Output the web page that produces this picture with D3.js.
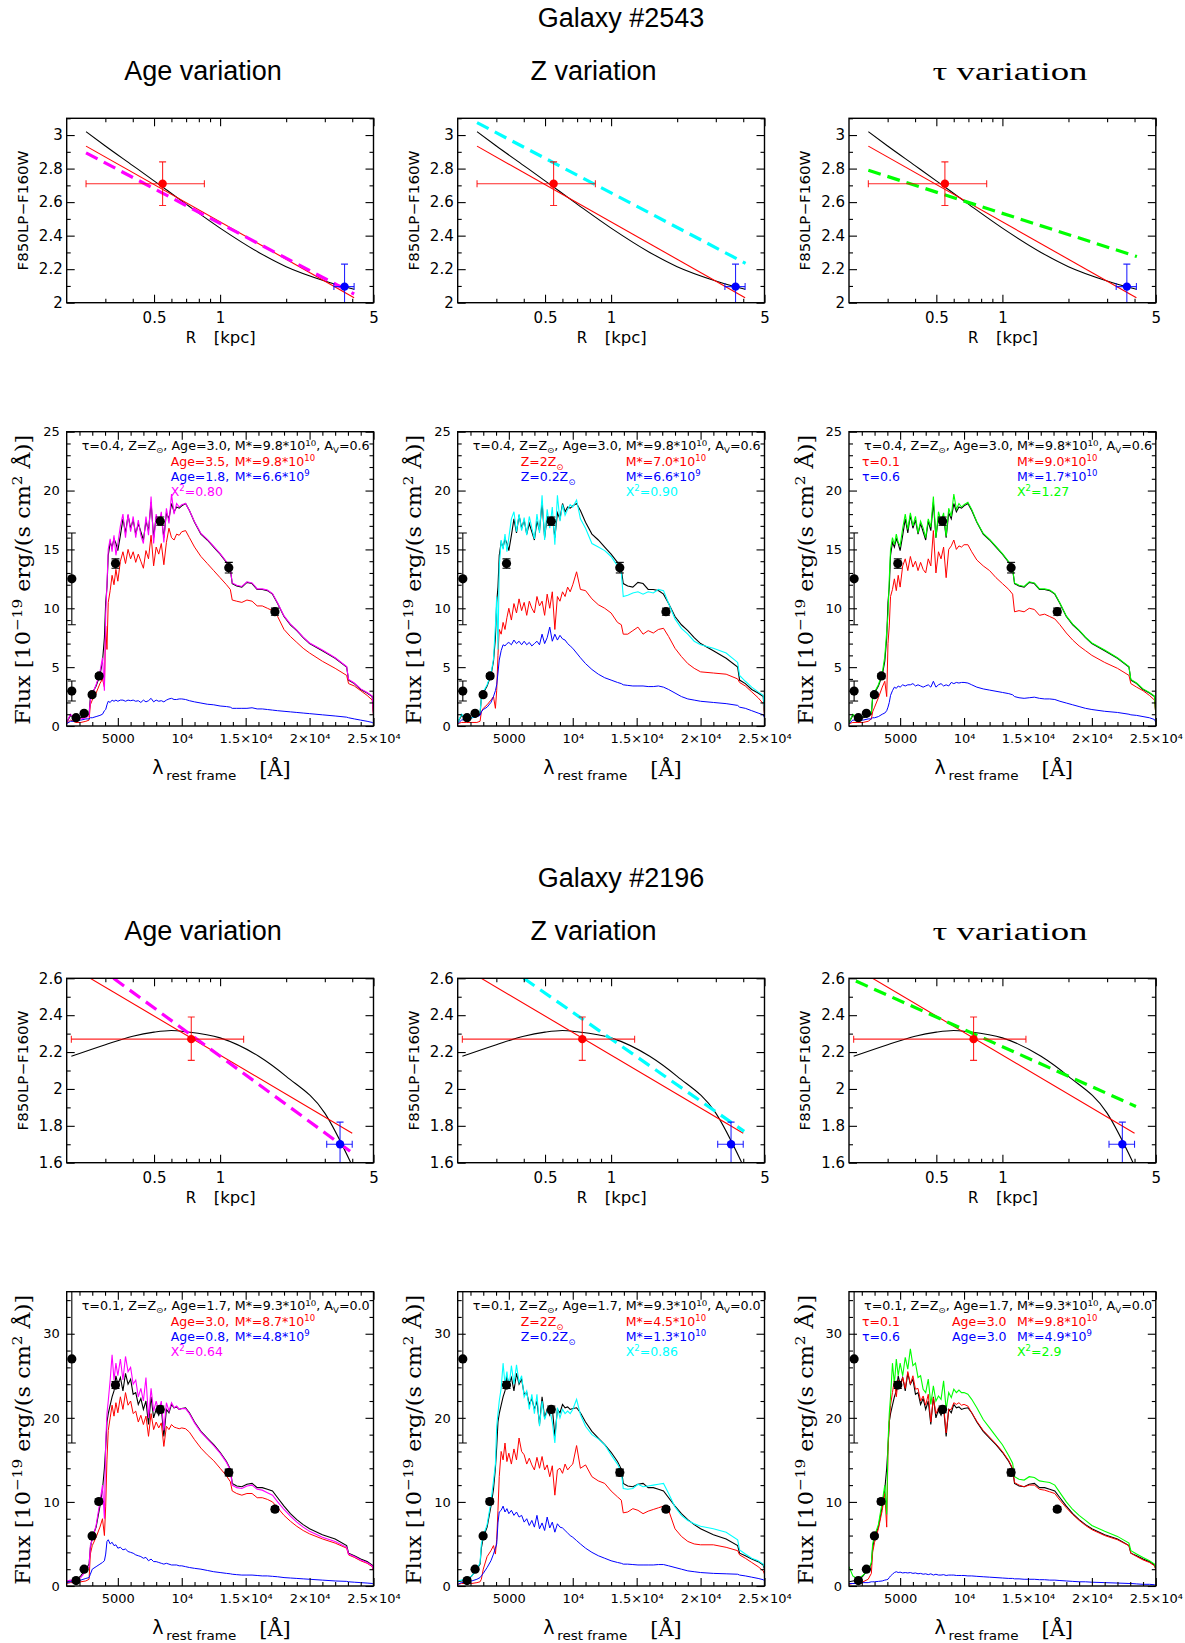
<!DOCTYPE html>
<html><head><meta charset="utf-8">
<script src="https://cdn.jsdelivr.net/npm/d3@7"></script>
<style>html,body{margin:0;padding:0;background:#fff}svg{display:block}</style>
</head><body>
<script>
// ---------------- DATA ----------------
// rest-frame wavelength grid (Angstrom) on which the model spectra were read
const WAVE = [1000,1300,1700,2100,2500,2750,2850,3000,3300,3600,
 3800,3950,4050,4150,4250,4400,4550,4700,4850,5000,
 5200,5400,5600,5800,6000,6200,6400,6600,6800,7000,
 7200,7400,7600,7800,8000,8200,8400,8600,8800,9000,
 9200,9400,9600,9800,10000,10300,10600,11000,11500,12000,
 12500,13000,13500,13800,13950,14300,14700,15100,15500,15900,
 16300,16700,17100,17500,18000,18500,19000,19500,20000,21000,
 22000,22900,23050,23500,24000,24500,24900,25000];

// ---- Galaxy #2543 spectra (10^-19 erg/s/cm2/A)
const G1_BEST = [0.3,0.9,0.6,0.7,0.8,1.0,2.4,2.8,3.4,4.3,
 5.5,7.5,10.5,11.8,14.5,15.6,15.2,15.9,15.5,14.9,
 16.2,17.6,16.4,17.9,16.8,17.5,16.3,17.2,16.5,15.8,
 17.4,16.6,19.0,16.0,17.8,17.2,17.8,16.0,18.1,17.6,
 18.9,18.2,18.6,18.5,18.7,18.9,18.3,17.3,16.3,15.8,
 15.2,14.6,13.9,13.3,12.1,11.9,11.8,12.2,12.1,11.6,
 11.6,11.5,11.2,10.4,9.3,8.6,8.1,7.5,7.0,6.4,
 5.75,5.0,3.9,3.6,3.1,2.8,2.5,1.0];
const G1_AGE_FIT = [0.3,1.0,0.5,0.6,0.7,0.9,2.2,2.7,3.5,4.6,
 5.8,3.0,9.5,12.0,15.0,15.9,14.8,16.2,14.5,15.5,
 17.0,18.0,16.0,18.0,16.5,17.8,16.0,17.5,16.2,15.5,
 17.8,16.2,19.5,15.5,18.0,17.0,18.2,15.6,18.5,17.2,
 19.7,18.0,18.9,18.6,18.8,18.9,18.3,17.35,16.35,15.85,
 15.25,14.65,13.95,13.35,12.15,11.95,11.85,12.25,12.15,11.65,
 11.65,11.55,11.25,10.45,9.35,8.65,8.15,7.55,7.05,6.45,
 5.8,5.05,3.95,3.65,3.15,2.85,2.55,1.05];
const G1_AGE_RED = [0.2,0.5,0.3,0.3,0.4,0.5,1.8,2.2,2.8,3.6,
 4.0,3.3,8.5,6.5,10.5,11.5,12.8,12.0,13.3,12.3,
 14.0,14.8,13.8,15.0,14.2,14.8,13.9,14.6,14.0,13.4,
 14.9,14.2,16.2,13.6,15.2,14.6,15.5,13.7,15.6,16.8,
 16.0,15.8,16.3,16.2,16.5,16.6,16.0,15.2,14.4,13.8,
 13.2,12.6,12.0,11.6,10.7,10.6,10.5,10.7,10.6,10.2,
 10.2,10.0,9.8,9.3,8.2,7.6,7.1,6.6,6.2,5.5,
 4.9,4.3,3.6,3.4,3.0,2.6,2.2,0.9];
const G1_AGE_BLUE = [0.2,0.4,0.4,0.5,0.6,0.6,0.7,0.7,0.8,0.9,
 1.0,1.3,1.4,1.8,2.1,2.0,2.2,2.1,2.2,2.1,
 2.2,2.2,2.1,2.2,2.15,2.2,2.1,2.15,2.0,2.2,
 2.05,2.15,2.35,2.05,2.2,2.1,2.15,2.05,2.2,2.3,
 2.35,2.25,2.25,2.3,2.3,2.25,2.15,2.05,1.95,1.85,
 1.8,1.7,1.65,1.6,1.5,1.5,1.5,1.5,1.55,1.45,
 1.45,1.4,1.35,1.3,1.25,1.2,1.15,1.1,1.05,0.95,
 0.85,0.75,0.7,0.6,0.5,0.4,0.3,0.2];
const G1_Z_FIT = [0.3,1.0,0.6,0.7,0.9,1.2,2.3,2.9,3.5,4.4,
 5.7,8.5,11.0,6.5,13.5,15.8,15.0,16.3,14.8,16.0,
 17.6,18.2,16.5,18.0,16.6,17.7,16.2,17.8,16.8,15.9,
 18.0,16.4,19.6,15.8,18.4,16.8,18.6,15.4,19.6,17.4,
 18.8,17.9,18.4,18.8,18.6,19.2,17.6,16.8,15.5,15.2,
 14.9,14.4,13.6,13.0,11.0,11.1,11.3,11.4,11.2,11.4,
 11.3,11.6,11.5,10.4,9.1,8.3,7.8,7.2,6.9,6.6,
 6.2,5.4,4.3,3.8,3.3,2.9,2.6,1.2];
const G1_Z_RED = [0.2,0.3,0.3,0.3,0.3,0.4,1.2,1.5,1.8,2.2,
 2.5,1.5,3.0,6.0,8.2,7.8,8.8,8.2,9.2,10.0,
 9.0,10.4,9.6,10.8,9.8,10.5,9.4,10.6,10.0,9.6,
 11.0,10.2,10.6,9.4,11.2,10.0,11.4,8.2,11.0,10.6,
 11.4,11.0,11.8,11.4,12.0,13.1,11.6,11.5,10.8,10.3,
 10.0,9.6,8.8,8.6,7.8,7.8,8.1,8.4,7.8,8.1,
 7.9,8.2,8.3,7.6,6.6,5.9,5.3,4.9,4.6,4.5,
 4.4,4.0,3.7,3.4,2.9,2.4,1.9,1.0];
const G1_Z_BLUE = [0.2,0.5,0.6,0.7,0.8,0.9,1.2,1.4,1.6,2.0,
 2.5,3.0,3.5,4.5,5.6,6.4,6.9,6.8,7.0,7.1,
 6.9,7.3,7.0,7.2,6.9,7.2,6.9,7.1,6.8,7.0,
 7.2,6.9,7.8,7.0,7.5,8.4,7.2,7.8,7.3,7.7,
 7.4,7.3,7.0,6.8,6.6,6.2,5.8,5.3,4.8,4.4,
 4.1,3.9,3.7,3.6,3.5,3.45,3.4,3.4,3.4,3.35,
 3.35,3.4,3.3,3.1,2.8,2.5,2.3,2.2,2.1,2.0,
 1.9,1.75,1.6,1.5,1.3,1.1,0.95,0.7];
const G1_TAU_FIT = [0.3,1.0,0.7,0.8,0.9,1.1,2.5,2.9,3.5,4.5,
 5.9,8.0,9.5,12.5,15.0,16.0,15.4,16.3,15.6,15.3,
 16.8,18.0,16.7,18.1,17.0,17.8,16.4,17.4,16.8,16.0,
 17.6,16.9,19.5,16.0,18.2,17.4,18.1,16.1,18.5,17.8,
 19.7,18.4,18.9,18.6,18.8,19.0,18.4,17.35,16.35,15.85,
 15.25,14.65,13.95,13.35,12.15,11.95,11.85,12.25,12.15,11.65,
 11.65,11.55,11.25,10.45,9.35,8.65,8.15,7.55,7.05,6.45,
 5.8,5.05,3.95,3.65,3.15,2.85,2.55,1.05];
const G1_TAU_RED = [0.2,0.3,0.3,0.3,0.4,0.6,1.2,1.6,2.4,3.3,
 3.8,2.5,7.0,8.5,11.0,11.6,12.5,11.5,12.8,11.8,
 13.6,14.2,13.2,14.4,13.5,14.0,13.2,13.9,13.3,13.0,
 14.2,13.6,16.6,13.0,14.8,14.2,15.2,12.6,15.0,15.3,
 15.8,15.0,15.3,15.2,15.4,15.4,14.8,14.1,13.6,13.2,
 12.6,12.1,11.6,11.2,9.7,9.8,9.7,10.0,9.9,9.4,
 9.5,9.3,9.1,8.6,7.9,7.3,6.8,6.4,6.0,5.4,
 4.9,4.3,3.6,3.3,3.0,2.6,2.2,1.0];
const G1_TAU_BLUE = [0.2,0.5,0.5,0.5,0.6,0.6,0.7,0.7,0.8,1.0,
 1.1,1.3,1.6,2.0,2.6,3.0,3.3,3.2,3.4,3.3,
 3.5,3.4,3.5,3.5,3.6,3.4,3.5,3.4,3.3,3.4,
 3.5,3.3,3.8,3.3,3.5,3.6,3.4,3.5,3.4,3.7,
 3.6,3.7,3.65,3.7,3.7,3.65,3.5,3.3,3.15,3.05,
 2.95,2.85,2.75,2.65,2.5,2.4,2.35,2.4,2.45,2.35,
 2.3,2.3,2.25,2.1,1.95,1.8,1.65,1.5,1.4,1.25,
 1.15,1.0,0.95,0.9,0.8,0.7,0.55,0.3];

// ---- Galaxy #2196 spectra
const G2_BEST = [0.5,0.6,0.7,1.2,2.0,2.6,4.5,5.8,7.0,9.5,
 11.5,14.0,16.5,19.5,20.5,21.5,22.5,23.2,25.0,24.0,
 24.8,23.2,25.3,24.0,24.6,22.8,23.0,21.6,22.3,21.0,
 22.0,19.2,22.5,20.0,21.0,20.3,21.2,17.8,21.0,20.6,
 21.6,21.2,21.3,21.0,21.1,21.2,20.6,19.5,18.4,17.6,
 16.8,15.9,14.8,13.9,12.2,11.9,11.8,12.1,12.2,11.7,
 11.7,11.5,11.3,10.5,9.5,8.6,7.9,7.3,6.8,6.1,
 5.6,4.8,3.9,3.6,3.2,2.9,2.5,2.0];
const G2_AGE_FIT = [0.6,0.7,0.6,1.0,1.8,2.3,4.8,5.5,7.2,10.0,
 12.0,8.0,17.0,20.5,22.0,24.5,27.5,24.5,26.5,25.0,
 27.0,24.5,27.3,25.5,26.0,24.0,24.5,22.5,23.5,22.0,
 24.8,20.0,23.5,20.8,22.0,20.8,22.0,18.5,21.8,20.8,
 21.8,21.2,21.4,21.0,21.1,21.1,20.5,19.4,18.3,17.5,
 16.7,15.8,14.7,13.8,12.0,11.7,11.6,11.9,12.0,11.5,
 11.4,11.1,10.8,10.0,9.1,8.3,7.6,7.0,6.5,5.8,
 5.3,4.6,3.8,3.5,3.1,2.8,2.4,1.9];
const G2_AGE_RED = [0.3,0.4,0.4,0.5,0.6,0.8,3.8,4.8,5.8,7.0,
 8.0,6.0,9.5,15.0,18.5,20.0,21.5,20.2,21.8,20.6,
 22.5,21.0,23.0,21.5,22.0,20.5,20.8,19.5,20.3,19.2,
 20.2,17.8,20.5,18.6,19.5,18.8,19.4,16.6,19.0,18.6,
 19.2,18.9,18.8,18.7,18.8,18.7,18.3,17.4,16.4,15.6,
 14.9,14.0,13.1,12.4,11.3,11.0,10.8,11.0,11.0,10.5,
 10.5,10.3,10.0,9.3,8.4,7.7,7.1,6.6,6.2,5.6,
 5.1,4.5,3.7,3.4,3.0,2.7,2.3,1.8];
const G2_AGE_BLUE = [0.4,0.5,0.5,0.7,0.9,1.0,1.4,2.0,2.3,2.6,
 2.8,3.0,3.8,5.3,5.5,5.0,5.2,4.8,4.9,4.5,
 4.6,4.3,4.4,4.1,4.0,3.9,3.7,3.6,3.5,3.3,
 3.4,3.0,3.2,2.9,2.9,2.8,2.7,2.6,2.7,2.6,
 2.5,2.5,2.5,2.4,2.4,2.3,2.2,2.1,2.0,1.85,
 1.7,1.6,1.5,1.45,1.4,1.35,1.3,1.3,1.3,1.25,
 1.2,1.2,1.15,1.1,1.0,0.95,0.9,0.85,0.8,0.7,
 0.6,0.55,0.5,0.45,0.4,0.35,0.3,0.25];
const G2_Z_FIT = [0.6,0.7,0.8,1.2,1.9,2.8,5.0,6.0,7.3,10.0,
 12.5,14.5,19.0,20.5,22.0,23.5,26.5,24.0,25.5,23.5,
 26.2,24.0,26.3,24.2,25.0,22.5,23.2,21.0,22.8,20.5,
 22.8,19.0,22.0,19.8,20.8,21.0,19.5,17.0,21.2,20.0,
 21.0,20.5,20.8,20.5,21.0,22.2,20.4,19.0,18.0,17.5,
 16.8,15.6,14.5,13.6,11.6,11.5,11.6,12.1,11.8,11.9,
 12.0,12.1,12.2,11.0,9.4,8.4,7.8,7.4,7.1,6.8,
 6.4,5.5,4.3,3.8,3.3,3.0,2.6,2.2];
const G2_Z_RED = [0.2,0.3,0.3,0.3,0.4,0.5,0.8,2.0,3.5,4.2,
 4.8,3.8,5.5,9.0,13.0,16.0,15.0,17.0,14.8,15.8,
 14.5,16.3,15.0,17.6,16.0,15.6,14.5,15.2,14.4,13.8,
 15.3,14.0,15.4,13.8,14.4,13.0,14.3,10.8,13.8,14.0,
 13.4,14.5,13.8,14.2,14.5,16.7,14.0,14.4,13.0,12.5,
 12.2,11.3,10.6,10.2,8.7,8.8,9.2,9.0,8.6,8.9,
 9.1,9.3,9.5,9.0,6.8,5.9,5.3,5.0,4.9,4.9,
 4.6,4.2,3.7,3.3,2.8,2.3,1.8,1.4];
const G2_Z_BLUE = [0.2,0.4,0.5,0.6,0.8,1.0,1.2,1.5,2.2,3.0,
 3.8,4.5,5.0,7.5,8.8,9.0,9.5,8.8,9.2,8.6,
 9.0,8.4,8.8,8.2,8.4,7.6,8.0,7.2,7.8,7.0,
 8.4,6.8,7.5,6.6,8.2,6.9,7.6,6.4,7.4,7.0,
 6.9,6.6,6.3,6.0,5.8,5.4,5.0,4.5,4.0,3.6,
 3.3,3.0,2.8,2.7,2.6,2.6,2.55,2.5,2.5,2.5,
 2.5,2.55,2.55,2.4,2.2,2.0,1.8,1.7,1.6,1.5,
 1.45,1.4,1.3,1.2,1.05,0.9,0.75,0.6];
const G2_TAU_FIT = [2.3,1.2,0.8,1.3,1.8,2.8,5.0,6.0,7.3,10.0,
 12.0,8.5,17.0,20.5,22.5,26.5,24.0,27.0,25.0,26.5,
 25.0,27.2,25.8,28.2,26.2,26.5,24.8,25.0,23.4,23.0,
 24.6,21.6,23.8,22.0,22.6,22.2,24.4,21.0,23.0,22.4,
 23.4,23.0,23.3,23.0,23.0,22.8,22.2,21.2,19.8,18.8,
 17.8,16.8,15.5,14.6,13.0,12.7,12.6,13.0,12.9,12.5,
 12.4,12.3,12.0,11.1,10.0,9.1,8.4,7.8,7.2,6.5,
 5.9,5.1,4.2,3.8,3.4,3.0,2.6,2.1];
const G2_TAU_RED = [0.2,0.3,0.3,0.5,0.8,1.5,4.0,5.2,6.8,9.0,
 11.0,7.0,16.0,19.5,21.5,23.0,24.5,22.5,24.5,23.5,
 24.8,23.5,25.5,24.0,25.0,23.4,23.5,22.0,22.6,21.5,
 22.8,19.5,22.4,20.5,21.2,20.8,21.5,18.2,21.0,21.0,
 21.8,21.6,21.8,21.5,21.6,21.4,20.6,19.6,18.5,17.7,
 16.9,16.0,14.9,14.0,12.3,12.0,11.8,12.0,12.0,11.5,
 11.4,11.2,11.0,10.2,9.3,8.5,7.8,7.2,6.7,6.0,
 5.5,4.8,3.9,3.5,3.1,2.8,2.4,1.9];
const G2_TAU_BLUE = [0.3,0.3,0.3,0.4,0.4,0.5,0.5,0.5,0.55,0.6,
 0.7,0.75,0.8,1.0,1.2,1.4,1.6,1.7,1.6,1.65,
 1.55,1.6,1.55,1.6,1.5,1.55,1.45,1.5,1.4,1.45,
 1.35,1.45,1.3,1.4,1.3,1.3,1.35,1.25,1.3,1.3,
 1.3,1.25,1.25,1.25,1.25,1.2,1.2,1.15,1.1,1.05,
 1.0,0.95,0.9,0.9,0.85,0.85,0.8,0.8,0.8,0.75,
 0.75,0.7,0.7,0.65,0.6,0.55,0.5,0.5,0.45,0.4,
 0.35,0.3,0.3,0.25,0.2,0.2,0.15,0.1];

// ---- photometric points (rest-frame wavelength, flux, 1-sigma error)
const G1_PHOT_LAM = [1400,1400,1732,2360,2987,3536,4817,8320,13680,17290];
const G1_PHOT_F   = [12.5,2.97,0.71,1.08,2.66,4.25,13.8,17.4,13.45,9.71];
const G1_PHOT_E   = [3.9,0.85,0.1,0.1,0.15,0.2,0.4,0.35,0.45,0.3];
const G2_PHOT_LAM = [1400,1732,2360,2987,3510,4817,8320,13680,17290];
const G2_PHOT_F   = [27.0,0.64,2.0,5.96,10.05,23.9,21.0,13.5,9.14];
const G2_PHOT_E   = [10.0,0.1,0.1,0.2,0.3,0.4,0.4,0.4,0.3];

// ---- colour profiles F850LP-F160W vs R [kpc]
const G1_PROF_R = [0.245,0.3,0.4,0.5,0.7,1,1.5,2,3,4.08];
const G1_PROF_C = [3.02,2.935,2.818,2.727,2.588,2.445,2.30,2.215,2.13,2.08];
const G1_LIN_R = [0.245,4.08];
const G1_LIN_C = [2.934,2.03];
const G1_AGE_DASH_R = [0.245,4.08], G1_AGE_DASH_C = [2.894,2.052];
const G1_Z_DASH_R = [0.245,4.1],    G1_Z_DASH_C = [3.074,2.235];
const G1_TAU_DASH_R = [0.245,4.1],  G1_TAU_DASH_C = [2.79,2.275];
// inner (red) and outer (blue) measured colours: R, C, Rlo, Rhi, Clo, Chi
const G1_PT_IN  = [0.547,2.71,0.245,0.848,2.58,2.84];
const G1_PT_OUT = [3.69,2.096,3.3,4.08,1.96,2.23];

const G2_PROF_R = [0.21,0.3,0.4,0.5,0.6,0.7,1,1.5,2,3,3.94];
const G2_PROF_C = [2.177,2.24,2.286,2.308,2.317,2.31,2.277,2.177,2.068,1.869,1.6];
const G2_LIN_R = [0.256,4.0];
const G2_LIN_C = [2.6,1.76];
const G2_AGE_DASH_R = [0.327,4.04], G2_AGE_DASH_C = [2.6,1.65];
const G2_Z_DASH_R = [0.4,4.04],     G2_Z_DASH_C = [2.6,1.77];
const G2_TAU_DASH_R = [0.215,4.06], G2_TAU_DASH_C = [2.585,1.905];
const G2_PT_IN  = [0.739,2.27,0.21,1.28,2.155,2.39];
const G2_PT_OUT = [3.52,1.70,3.06,4.0,1.56,1.82];

// ---- axes / ticks
const R_DOMAIN = [0.2,5];
const R_MAJOR = [0.5,1,5];
const R_MINOR = [0.3,0.4,0.6,0.7,0.8,0.9,2,3,4];
const LAM_DOMAIN = [1000,25000];
const LAM_MAJOR = [5000,10000,15000,20000,25000];
const LAM_LABELS = ["5000","10\u2074","1.5\u00d710\u2074","2\u00d710\u2074","2.5\u00d710\u2074"];
const LAM_MINOR = [2000,3000,4000,6000,7000,8000,9000,11000,12000,13000,14000,16000,17000,18000,19000,21000,22000,23000,24000];
const G1_C_DOMAIN = [2,3.1], G1_C_MAJOR = [2,2.2,2.4,2.6,2.8,3], G1_C_MINOR = [2.1,2.3,2.5,2.7,2.9,3.1];
const G2_C_DOMAIN = [1.6,2.6], G2_C_MAJOR = [1.6,1.8,2,2.2,2.4,2.6], G2_C_MINOR = [1.7,1.9,2.1,2.3,2.5];
const G1_F_DOMAIN = [0,25], G1_F_MAJOR = [0,5,10,15,20,25], G1_F_MINOR = [1,2,3,4,6,7,8,9,11,12,13,14,16,17,18,19,21,22,23,24];
const G2_F_DOMAIN = [0,35], G2_F_MAJOR = [0,10,20,30], G2_F_MINOR = [2,4,6,8,12,14,16,18,22,24,26,28,32,34];

const RED="#ff0000", BLUE="#0000ff", MAG="#ff00ff", CYAN="#00ffff", GREEN="#00ff00";

// ---------------- LAYOUT ----------------
const W=1185, H=1643;
const COL_X = [66.7,457.7,849];
const BOX_W = 306.8;
const COL_T = 118.3, COL_H = 184.4, SED_T = 431.7, SED_H = 294.3;
const TITLE_X = [203,593.5,1010];
const SANS = "'DejaVu Sans', sans-serif";
const HEAD = "'Liberation Sans', Arial, sans-serif";

const galaxies = [
 {title:"Galaxy #2543", dy:0, cDom:G1_C_DOMAIN, cMaj:G1_C_MAJOR, cMin:G1_C_MINOR,
  fDom:G1_F_DOMAIN, fMaj:G1_F_MAJOR, fMin:G1_F_MINOR,
  best:G1_BEST, profR:G1_PROF_R, profC:G1_PROF_C, linR:G1_LIN_R, linC:G1_LIN_C,
  ptIn:G1_PT_IN, ptOut:G1_PT_OUT, lam:G1_PHOT_LAM, f:G1_PHOT_F, e:G1_PHOT_E,
  head:"\u03c4=0.4, Z=Z_{\u2299}, Age=3.0, M*=9.8*10^{10}, A_{V}=0.6",
  panels:[
   {title:"Age variation", fit:G1_AGE_FIT, fitC:MAG, red:G1_AGE_RED, blue:G1_AGE_BLUE, dR:G1_AGE_DASH_R, dC:G1_AGE_DASH_C,
    leg:[[104,1,RED,"Age=3.5,"],[168,1,RED,"M*=9.8*10^{10}"],[104,2,BLUE,"Age=1.8,"],[168,2,BLUE,"M*=6.6*10^{9}"],[104,3,MAG,"X^{2}=0.80"]]},
   {title:"Z variation", fit:G1_Z_FIT, fitC:CYAN, red:G1_Z_RED, blue:G1_Z_BLUE, dR:G1_Z_DASH_R, dC:G1_Z_DASH_C,
    leg:[[63,1,RED,"Z=2Z_{\u2299}"],[168,1,RED,"M*=7.0*10^{10}"],[63,2,BLUE,"Z=0.2Z_{\u2299}"],[168,2,BLUE,"M*=6.6*10^{9}"],[168,3,CYAN,"X^{2}=0.90"]]},
   {title:"\u03c4 variation", fit:G1_TAU_FIT, fitC:GREEN, red:G1_TAU_RED, blue:G1_TAU_BLUE, dR:G1_TAU_DASH_R, dC:G1_TAU_DASH_C,
    leg:[[13,1,RED,"\u03c4=0.1"],[168,1,RED,"M*=9.0*10^{10}"],[13,2,BLUE,"\u03c4=0.6"],[168,2,BLUE,"M*=1.7*10^{10}"],[168,3,GREEN,"X^{2}=1.27"]]}
  ]},
 {title:"Galaxy #2196", dy:860, cDom:G2_C_DOMAIN, cMaj:G2_C_MAJOR, cMin:G2_C_MINOR,
  fDom:G2_F_DOMAIN, fMaj:G2_F_MAJOR, fMin:G2_F_MINOR,
  best:G2_BEST, profR:G2_PROF_R, profC:G2_PROF_C, linR:G2_LIN_R, linC:G2_LIN_C,
  ptIn:G2_PT_IN, ptOut:G2_PT_OUT, lam:G2_PHOT_LAM, f:G2_PHOT_F, e:G2_PHOT_E,
  head:"\u03c4=0.1, Z=Z_{\u2299}, Age=1.7, M*=9.3*10^{10}, A_{V}=0.0",
  panels:[
   {title:"Age variation", fit:G2_AGE_FIT, fitC:MAG, red:G2_AGE_RED, blue:G2_AGE_BLUE, dR:G2_AGE_DASH_R, dC:G2_AGE_DASH_C,
    leg:[[104,1,RED,"Age=3.0,"],[168,1,RED,"M*=8.7*10^{10}"],[104,2,BLUE,"Age=0.8,"],[168,2,BLUE,"M*=4.8*10^{9}"],[104,3,MAG,"X^{2}=0.64"]]},
   {title:"Z variation", fit:G2_Z_FIT, fitC:CYAN, red:G2_Z_RED, blue:G2_Z_BLUE, dR:G2_Z_DASH_R, dC:G2_Z_DASH_C,
    leg:[[63,1,RED,"Z=2Z_{\u2299}"],[168,1,RED,"M*=4.5*10^{10}"],[63,2,BLUE,"Z=0.2Z_{\u2299}"],[168,2,BLUE,"M*=1.3*10^{10}"],[168,3,CYAN,"X^{2}=0.86"]]},
   {title:"\u03c4 variation", fit:G2_TAU_FIT, fitC:GREEN, red:G2_TAU_RED, blue:G2_TAU_BLUE, dR:G2_TAU_DASH_R, dC:G2_TAU_DASH_C,
    leg:[[13,1,RED,"\u03c4=0.1"],[103,1,RED,"Age=3.0"],[168,1,RED,"M*=9.8*10^{10}"],[13,2,BLUE,"\u03c4=0.6"],[103,2,BLUE,"Age=3.0"],[168,2,BLUE,"M*=4.9*10^{9}"],[168,3,GREEN,"X^{2}=2.9"]]}
  ]}
];

// ---------------- DRAW ----------------
const svg = d3.select("body").append("svg").attr("width",W).attr("height",H);
svg.append("rect").attr("width",W).attr("height",H).attr("fill","#fff");
const defs = svg.append("defs");
let clipN = 0;

function rich(t, str, size){
  const parts = str.split(/(\^\{[^}]*\}|_\{[^}]*\})/).filter(s=>s.length);
  let off = 0;
  parts.forEach(p=>{
    let target=0, fs=size, txt=p;
    if(p.startsWith("^{")){target=-0.4*size; fs=size*0.68; txt=p.slice(2,-1);}
    else if(p.startsWith("_{")){target=0.28*size; fs=size*0.68; txt=p.slice(2,-1);}
    t.append("tspan").attr("dy",(target-off).toFixed(2)).attr("font-size",fs).text(txt);
    off = target;
  });
  return t;
}

function styleAxis(s, fs){
  s.select(".domain").remove();
  s.selectAll(".tick line").attr("stroke","#000").attr("stroke-width",1.1);
  s.selectAll(".tick text").attr("fill","#000").attr("font-size",fs).attr("font-family",SANS);
}
function frame(g, xs, ys, o){
  const [x0,x1]=xs.range(), [y0,y1]=ys.range();
  const mk=(fn,sc,vals,size,fmt,pad,tr)=>{
    const a=fn(sc).tickValues(vals).tickSize(size).tickPadding(pad).tickFormat(fmt||(()=>""));
    styleAxis(g.append("g").attr("transform",tr).call(a), o.fs);
  };
  mk(d3.axisBottom,xs,o.xMin,-4,null,0,`translate(0,${y0})`);
  mk(d3.axisTop,xs,o.xMin,-4,null,0,`translate(0,${y1})`);
  mk(d3.axisBottom,xs,o.xMaj,-8,o.xFmt,o.xPad,`translate(0,${y0})`);
  mk(d3.axisTop,xs,o.xMaj,-8,null,0,`translate(0,${y1})`);
  mk(d3.axisLeft,ys,o.yMin,-4,null,0,`translate(${x0},0)`);
  mk(d3.axisRight,ys,o.yMin,-4,null,0,`translate(${x1},0)`);
  mk(d3.axisLeft,ys,o.yMaj,-8,o.yFmt,o.yPad,`translate(${x0},0)`);
  mk(d3.axisRight,ys,o.yMaj,-8,null,0,`translate(${x1},0)`);
  g.append("rect").attr("x",x0).attr("y",y1).attr("width",x1-x0).attr("height",y0-y1)
    .attr("fill","none").attr("stroke","#000").attr("stroke-width",1.4);
}
function clipFor(x0,y0,w,h){
  const id="clip"+(clipN++);
  defs.append("clipPath").attr("id",id).append("rect").attr("x",x0).attr("y",y0).attr("width",w).attr("height",h);
  return `url(#${id})`;
}
const zip=(a,b)=>a.map((v,i)=>[v,b[i]]);

galaxies.forEach(G=>{
  const oy=G.dy;
  svg.append("text").attr("x",621).attr("y",26.5+oy).attr("text-anchor","middle")
    .attr("font-family",HEAD).attr("font-size",27).text(G.title);

  G.panels.forEach((P,pi)=>{
    const L=COL_X[pi], R=L+BOX_W;
    // column title
    const tt=svg.append("text").attr("x",TITLE_X[pi]).attr("y",79.5+oy).attr("text-anchor","middle").attr("font-size",27);
    if(pi===2){ tt.attr("font-family","'Liberation Serif', serif").attr("font-size",25).attr("textLength",155).attr("lengthAdjust","spacingAndGlyphs"); }
    else tt.attr("font-family",HEAD);
    tt.text(P.title);

    // ---------- colour-profile panel ----------
    const T=COL_T+oy, B=T+COL_H;
    const x=d3.scaleLog().domain(R_DOMAIN).range([L,R]);
    const y=d3.scaleLinear().domain(G.cDom).range([B,T]);
    const g=svg.append("g");
    const inner=g.append("g").attr("clip-path",clipFor(L,T,BOX_W,COL_H));
    const ln=d3.line().x(d=>x(d[0])).y(d=>y(d[1]));
    inner.append("path").attr("d",ln.curve(d3.curveMonotoneX)(zip(G.profR,G.profC))).attr("fill","none").attr("stroke","#000").attr("stroke-width",1.1);
    inner.append("path").attr("d",d3.line().x(d=>x(d[0])).y(d=>y(d[1]))(zip(G.linR,G.linC))).attr("fill","none").attr("stroke",RED).attr("stroke-width",1.1);
    inner.append("path").attr("d",d3.line().x(d=>x(d[0])).y(d=>y(d[1]))(zip(P.dR,P.dC))).attr("fill","none").attr("stroke",P.fitC).attr("stroke-width",3.2).attr("stroke-dasharray","13,7");
    [[G.ptIn,RED],[G.ptOut,BLUE]].forEach(([p,c])=>{
      const [r0,c0,rl,rh,cl,ch]=p, cap=3.5;
      const eg=inner.append("g").attr("stroke",c).attr("stroke-width",1.1).attr("stroke-opacity",0.85);
      eg.append("line").attr("x1",x(rl)).attr("x2",x(rh)).attr("y1",y(c0)).attr("y2",y(c0));
      eg.append("line").attr("x1",x(r0)).attr("x2",x(r0)).attr("y1",y(cl)).attr("y2",y(ch));
      eg.append("line").attr("x1",x(rl)).attr("x2",x(rl)).attr("y1",y(c0)-cap).attr("y2",y(c0)+cap);
      eg.append("line").attr("x1",x(rh)).attr("x2",x(rh)).attr("y1",y(c0)-cap).attr("y2",y(c0)+cap);
      eg.append("line").attr("x1",x(r0)-cap).attr("x2",x(r0)+cap).attr("y1",y(ch)).attr("y2",y(ch));
      eg.append("line").attr("x1",x(r0)-cap).attr("x2",x(r0)+cap).attr("y1",y(cl)).attr("y2",y(cl));
      inner.append("circle").attr("cx",x(r0)).attr("cy",y(c0)).attr("r",4.2).attr("fill",c);
    });
    frame(g,x,y,{xMaj:R_MAJOR,xMin:R_MINOR,yMaj:G.cMaj,yMin:G.cMin,fs:15,xPad:10,yPad:4,
      xFmt:d=>String(d), yFmt:d=>String(+d.toFixed(1))});
    // axis labels
    g.append("text").attr("transform",`translate(${L-38.7},${(T+B)/2}) rotate(-90)`).attr("text-anchor","middle")
      .attr("font-family",SANS).attr("font-size",14.5).attr("textLength",120).attr("lengthAdjust","spacingAndGlyphs").text("F850LP\u2212F160W");
    g.append("text").attr("x",L+119).attr("y",B+40.5).attr("font-family",SANS).attr("font-size",15).text("R");
    g.append("text").attr("x",L+147).attr("y",B+40.5).attr("font-family",SANS).attr("font-size",15)
      .attr("textLength",42).attr("lengthAdjust","spacingAndGlyphs").text("[kpc]");

    // ---------- SED panel ----------
    const T2=SED_T+oy, B2=T2+SED_H;
    const xs=d3.scaleLinear().domain(LAM_DOMAIN).range([L,R]);
    const ys=d3.scaleLinear().domain(G.fDom).range([B2,T2]);
    const g2=svg.append("g");
    const in2=g2.append("g").attr("clip-path",clipFor(L,T2,BOX_W,SED_H));
    const sl=d3.line().defined(d=>d[1]!=null).x(d=>xs(d[0])).y(d=>ys(d[1]));
    in2.append("path").attr("d",sl(zip(WAVE,G.best))).attr("fill","none").attr("stroke","#000").attr("stroke-width",1.1);
    in2.append("path").attr("d",sl(zip(WAVE,P.red))).attr("fill","none").attr("stroke",RED).attr("stroke-width",1);
    in2.append("path").attr("d",sl(zip(WAVE,P.blue))).attr("fill","none").attr("stroke",BLUE).attr("stroke-width",1);
    in2.append("path").attr("d",sl(zip(WAVE,P.fit))).attr("fill","none").attr("stroke",P.fitC).attr("stroke-width",1.1);
    G.lam.forEach((lv,i)=>{
      const fv=G.f[i], ev=G.e[i], cx=xs(lv), cap=4;
      const eg=in2.append("g").attr("stroke","#000").attr("stroke-width",1.1);
      eg.append("line").attr("x1",cx).attr("x2",cx).attr("y1",ys(fv-ev)).attr("y2",ys(fv+ev));
      eg.append("line").attr("x1",cx-cap).attr("x2",cx+cap).attr("y1",ys(fv-ev)).attr("y2",ys(fv-ev));
      eg.append("line").attr("x1",cx-cap).attr("x2",cx+cap).attr("y1",ys(fv+ev)).attr("y2",ys(fv+ev));
      in2.append("circle").attr("cx",cx).attr("cy",ys(fv)).attr("r",4.6).attr("fill","#000");
    });
    frame(g2,xs,ys,{xMaj:LAM_MAJOR,xMin:LAM_MINOR,yMaj:G.fMaj,yMin:G.fMin,fs:13,xPad:8,yPad:7,
      xFmt:d=>LAM_LABELS[LAM_MAJOR.indexOf(d)], yFmt:d=>String(d)});
    // legend
    rich(g2.append("text").attr("x",L+15).attr("y",T2+18.5).attr("font-family",SANS).attr("font-size",11.5)
      .attr("fill","#000").attr("textLength",288).attr("lengthAdjust","spacingAndGlyphs"), G.head, 11.5);
    const rowY=[0,34.5,49.5,64];
    P.leg.forEach(([dx,row,c,t])=>{
      rich(g2.append("text").attr("x",L+dx).attr("y",T2+rowY[row]).attr("font-family",SANS).attr("font-size",12.5).attr("fill",c), t, 12.5);
    });
    // axis labels
    rich(g2.append("text").attr("transform",`translate(${L-36.5},${(T2+B2)/2+1}) rotate(-90)`).attr("text-anchor","middle")
      .attr("font-family","'DejaVu Serif', serif").attr("font-size",20).attr("textLength",290).attr("lengthAdjust","spacingAndGlyphs"),
      "Flux [10^{\u221219} erg/(s cm^{2} \u00c5)]",20);
    g2.append("text").attr("x",L+85.5).attr("y",B2+48).attr("font-family",SANS).attr("font-size",19).text("\u03bb");
    g2.append("text").attr("x",L+99.5).attr("y",B2+54).attr("font-family",SANS).attr("font-size",13)
      .attr("textLength",70).attr("lengthAdjust","spacingAndGlyphs").text("rest frame");
    g2.append("text").attr("x",L+192.5).attr("y",B2+49.5).attr("font-family","'DejaVu Serif', serif").attr("font-size",21).text("[\u00c5]");
  });
});
</script>
</body></html>
